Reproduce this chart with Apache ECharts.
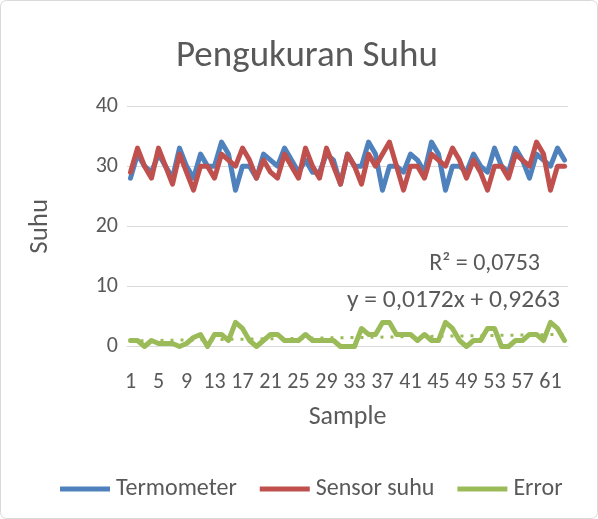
<!DOCTYPE html>
<html>
<head>
<meta charset="utf-8">
<script src="https://cdn.jsdelivr.net/npm/echarts@6/dist/echarts.min.js"></script>
<style>
html,body{margin:0;padding:0;background:#fff;}
#chart{width:598px;height:519px;}
</style>
</head>
<body>
<div id="chart"></div>
<script>
// ---- data ----
var samples = [];
for (var i = 1; i <= 63; i++) samples.push(String(i));

var termometer = [28,32,30,29,32,30,28,33,30,28, 32,30,30,34,32,26,30,30,28,32,
                  31,30,33,31,29,31,29,29,32,31, 27,32,30,30,34,32,26,30,30,29,
                  32,31,29,34,32,26,30,30,29,32, 30,29,33,30,29,33,31,28,32,31,
                  30,33,31];
var sensorSuhu = [29,33,30,28,33,30,27,32,29,26, 30,30,28,32,31,30,33,31,28,31,
                  29,28,32,30,28,33,30,28,33,30, 27,32,30,27,32,30,32,34,30,26,
                  30,30,28,32,31,30,33,31,28,31, 29,26,30,30,28,32,31,30,34,32,
                  26,30,30];
var errorVals = [1,1,0,1,0.5,0.5,0.5,0,0.5,1.5, 2,0,2,2,1,4,3,1,0,1,
                 2,2,1,1,1,2,1,1,1,1, 0,0,0,3,2,2,4,4,2,2,
                 2,1,2,1,1,4,3,1,0,1, 1,3,3,0,0,1,1,2,2,1,
                 4,3,1];
var trendSlope = 0.0172, trendIntercept = 0.9263;
var trendText = ["R² = 0,0753", "y = 0,0172x + 0,9263"];
var yTicks = {min: 0, max: 40, interval: 10};

var FONT = 'Carlito, Lato, sans-serif';
var GREY = '#595959';

var chart = echarts.init(document.getElementById('chart'), null, {renderer: 'canvas'});
var option = {
  backgroundColor: '#ffffff',
  animation: false,
  textStyle: {fontFamily: FONT, color: GREY},
  title: {
    text: 'Pengukuran Suhu', left: 171, top: 33,
    textStyle: {fontFamily: FONT, fontSize: 37, fontWeight: 'normal', color: GREY}
  },
  grid: {left: 127, right: 30, top: 106, bottom: 172.5, containLabel: false},
  legend: {
    bottom: 13, left: 55, itemWidth: 50, itemHeight: 5, itemGap: 23, icon: 'rect',
    textStyle: {fontFamily: FONT, fontSize: 24, color: GREY, padding: [0, 0, 0, 1]},
    data: ['Termometer', 'Sensor suhu', 'Error']
  },
  xAxis: {
    type: 'category', data: samples, boundaryGap: true,
    name: 'Sample', nameLocation: 'middle', nameGap: 58,
    nameTextStyle: {fontFamily: FONT, fontSize: 26, color: GREY},
    axisLine: {show: true, lineStyle: {color: '#d9d9d9', width: 1}},
    axisTick: {show: false},
    axisLabel: {interval: 3, margin: 25, fontFamily: FONT, fontSize: 22, color: GREY}
  },
  yAxis: {
    type: 'value', min: yTicks.min, max: yTicks.max, interval: yTicks.interval,
    name: 'Suhu', nameLocation: 'middle', nameGap: 73, nameRotate: 90,
    nameTextStyle: {fontFamily: FONT, fontSize: 27, color: GREY},
    axisLine: {show: false}, axisTick: {show: false},
    axisLabel: {margin: 9, fontFamily: FONT, fontSize: 22, color: GREY},
    splitLine: {lineStyle: {color: '#d9d9d9', width: 1}}
  },
  series: [
    {name: 'Termometer', type: 'line', data: termometer, symbol: 'none',
     lineStyle: {width: 5, color: '#4F81BD', join: 'round', cap: 'round'}, itemStyle: {color: '#4F81BD'}},
    {name: 'Sensor suhu', type: 'line', data: sensorSuhu, symbol: 'none',
     lineStyle: {width: 5, color: '#C0504D', join: 'round', cap: 'round'}, itemStyle: {color: '#C0504D'}},
    {name: 'Error', type: 'line', data: errorVals, symbol: 'none',
     lineStyle: {width: 5, color: '#9BBB59', join: 'round', cap: 'round'}, itemStyle: {color: '#9BBB59'},
     markLine: {
       silent: true, symbol: ['none', 'none'], label: {show: false},
       lineStyle: {color: '#9BBB59', width: 3, type: [3, 7]},
       data: [[
         {coord: [samples[0], trendSlope * 1 + trendIntercept]},
         {coord: [samples[samples.length - 1], trendSlope * samples.length + trendIntercept]}
       ]]
     }}
  ],
  graphic: [
    {type: 'rect', shape: {x: 0.5, y: 0.5, width: 597, height: 518, r: 6}, style: {fill: 'none', stroke: '#d9d9d9', lineWidth: 1}, z: -1},
    {type: 'text', right: 58, top: 252, style: {text: trendText[0], font: '24px ' + FONT, fill: GREY}},
    {type: 'text', right: 38, top: 288, style: {text: trendText[1], font: '25.5px ' + FONT, fill: GREY}}
  ]
};
chart.setOption(option);
</script>
</body>
</html>
